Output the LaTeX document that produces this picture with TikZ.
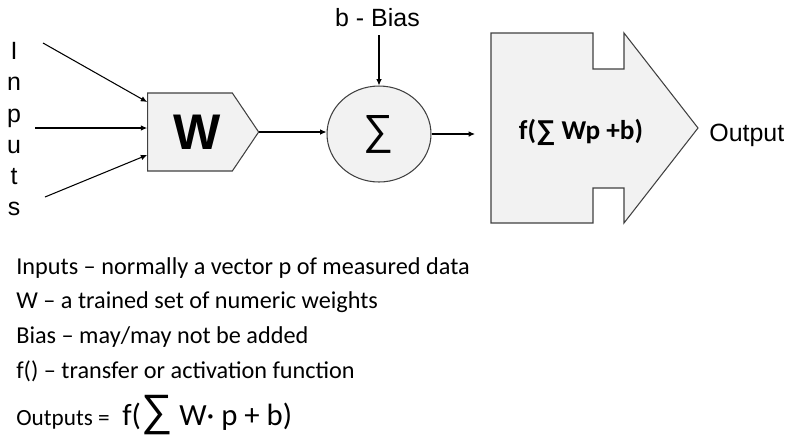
\documentclass[tikz,border=0pt]{standalone}
\usepackage{fontspec}
\setmainfont{Carlito}
\newfontfamily\arial{Liberation Sans}
\usetikzlibrary{shapes.symbols, shapes.geometric, arrows.meta, positioning, calc}
\newcommand{\sumsign}{{\arial ∑}}

\begin{document}
\begin{tikzpicture}[x=0.02cm, y=-0.02cm,
    % Node styles
    lbl/.style={font=\arial\fontsize{14.2}{17.8}\selectfont, inner sep=0pt},
    note/.style={font=\fontsize{13.8}{16}\selectfont, anchor=base west, inner sep=0pt},
    block/.style={draw=black!75, fill=black!5, line width=0.6pt},
    weights/.style={block, signal, signal to=east, signal pointer angle=112, minimum width=2.22cm, minimum height=1.56cm, inner sep=0pt, font=\arial\bfseries\fontsize{28.5}{30}\selectfont},
    summer/.style={block, ellipse, minimum width=2.08cm, minimum height=1.92cm, inner sep=0pt, font=\arial\fontsize{24}{24}\selectfont},
    arrow/.style={-{Latex[length=3.6pt, width=3.2pt]}, line width=0.6pt},
]
\useasboundingbox (0,0) rectangle (790,437);

% === Inputs and weights ===
\node[lbl, align=center, anchor=north] (inputs) at (14,42) {I\\n\\p\\u\\t\\s};
\coordinate (in1) at (43,43);
\coordinate (in2) at (35,128);
\coordinate (in3) at (45,197);
\node[weights] (w) at (190,132) {\kern8pt W};

\draw[arrow] (in1) -- ($(w.west)+(0,-30)$);
\draw[arrow] (in2) -- ($(w.west)+(0,-4)$);
\draw[arrow] (in3) -- ($(w.west)+(0,23)$);

% === Summation ===
\node[summer] (sum) at (379,134) {∑};
\node[lbl, anchor=base] (bias) at (377.5,26) {b - Bias};
\draw[arrow, shorten <=5pt] (bias.south -| sum.north) -- (sum.north);
\draw[arrow] (w.east) -- (w.east -| sum.west);

% === Transfer function ===
\draw[block] (491,33) -- (593,33) -- (593,69) -- (624,69) -- (624,33) -- (698,128)
    -- (624,223) -- (624,188) -- (593,188) -- (593,223) -- (491,223) -- cycle;
\node[font=\bfseries\fontsize{15.5}{17}\selectfont] (act) at (581,132) {f(\sumsign{} Wp +b)};
\coordinate (actin) at (475,134);
\draw[arrow] (sum.east) -- (actin);
\node[lbl, anchor=base west] (out) at (709,141) {Output};

% === Notes ===
\foreach \txt [count=\i] in {Inputs – normally a vector p of measured data,
    W – a trained set of numeric weights, Bias – may/may not be added,
    f() – transfer or activation function}
  \node[note] (note\i) at (16,{274+34.7*(\i-1)}) {\txt};
\node[note, font=\fontsize{13.2}{15}\selectfont] (outputs) at (16,425) {Outputs =};
\node[note, font=\fontsize{17.5}{20}\selectfont] (formula) at (122,425)
  {f({\fontsize{25}{25}\selectfont\sumsign} W· p + b)};

\end{tikzpicture}
\end{document}
